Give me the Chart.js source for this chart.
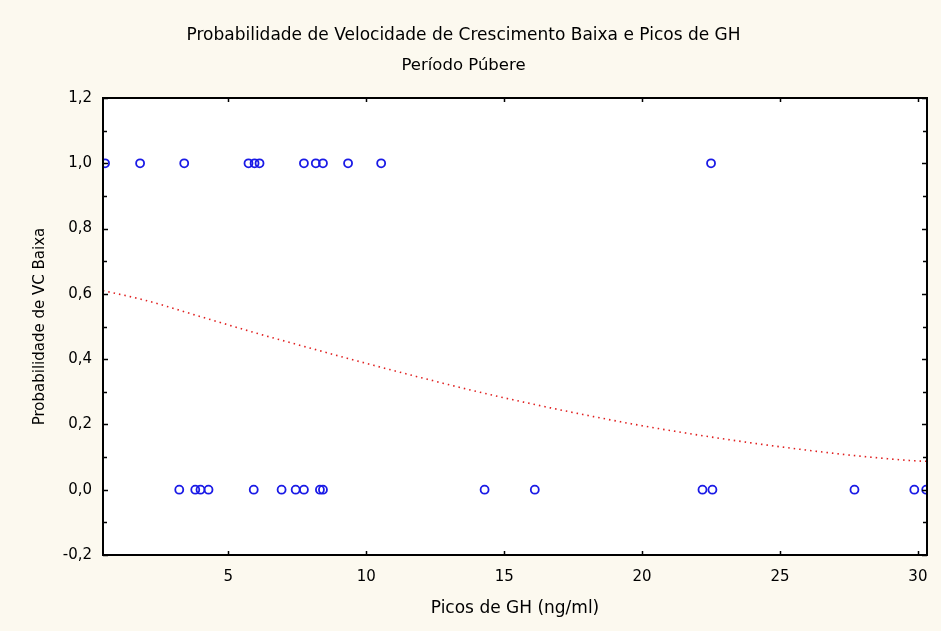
<!DOCTYPE html>
<html>
<head>
<meta charset="utf-8">
<script src="https://cdn.jsdelivr.net/npm/chart.js@4.4.1/dist/chart.umd.min.js"></script>
<style>
  html, body { margin: 0; padding: 0; background: #fcf9ef; }
  #wrap { width: 941px; height: 631px; }
</style>
</head>
<body>
<div id="wrap"><canvas id="gh" width="941" height="631"></canvas></div>
<script>
// observed cases: GH peak (ng/ml) with low growth velocity = 1
const picosBaixa1 = [0.53, 1.80, 3.40, 5.73, 5.95, 6.13, 7.74, 8.17, 8.43, 9.34, 10.54, 22.5];
// observed cases with low growth velocity = 0
const picosBaixa0 = [3.22, 3.80, 3.99, 4.28, 5.92, 6.93, 7.44, 7.74, 8.32, 8.43,
                     14.29, 16.11, 22.19, 22.55, 27.7, 29.87, 30.3];
// fitted probability curve
const curvaX = [0.45, 2, 4, 6, 8, 10, 12, 14, 16, 18, 20, 22, 24, 26, 28, 30, 30.33];
const curvaY = [0.61, 0.58, 0.53, 0.48, 0.433, 0.387, 0.343, 0.301, 0.263, 0.228, 0.196, 0.168, 0.143, 0.121, 0.102, 0.088, 0.087];
const xTicks = [5, 10, 15, 20, 25, 30];
const yTicks = [-0.2, 0, 0.2, 0.4, 0.6, 0.8, 1.0, 1.2];

const fontFam = "'DejaVu Sans', Verdana, sans-serif";
const virgula = v => v.toFixed(1).replace(".", ",");

const frame = {
  id: "frame",
  beforeDraw(chart) {
    const { ctx, chartArea: a } = chart;
    ctx.save();
    ctx.fillStyle = "#fcf9ef";
    ctx.fillRect(0, 0, chart.width, chart.height);
    ctx.fillStyle = "#ffffff";
    ctx.fillRect(a.left, a.top, a.right - a.left, a.bottom - a.top);
    ctx.restore();
  },
  afterDatasetsDraw(chart) {
    const { ctx, chartArea: a, scales: { x, y } } = chart;
    ctx.save();
    ctx.strokeStyle = "#000";
    ctx.lineWidth = 2;
    ctx.strokeRect(a.left, a.top, a.right - a.left, a.bottom - a.top);
    ctx.lineWidth = 1.5;
    ctx.beginPath();
    for (let v = -0.2; v <= 1.21; v += 0.1) {
      const py = Math.round(y.getPixelForValue(v)) + 0.5;
      const major = Math.round(v * 10) % 2 === 0;
      const len = major ? 5 : 4;
      ctx.moveTo(a.left, py); ctx.lineTo(a.left + len, py);
      ctx.moveTo(a.right, py); ctx.lineTo(a.right - len, py);
    }
    xTicks.forEach(v => {
      const px = Math.round(x.getPixelForValue(v)) + 0.5;
      ctx.moveTo(px, a.bottom); ctx.lineTo(px, a.bottom - 4);
      ctx.moveTo(px, a.top); ctx.lineTo(px, a.top + 4);
    });
    ctx.stroke();
    ctx.restore();
  }
};

new Chart(document.getElementById("gh"), {
  type: "scatter",
  data: {
    datasets: [
      {
        label: "VC baixa = 1",
        data: picosBaixa1.map(v => ({ x: v, y: 1 })),
        borderColor: "#1a1ae6",
        backgroundColor: "rgba(255,255,255,0)",
        borderWidth: 1.8,
        pointRadius: 4,
        pointHoverRadius: 4
      },
      {
        label: "VC baixa = 0",
        data: picosBaixa0.map(v => ({ x: v, y: 0 })),
        borderColor: "#1a1ae6",
        backgroundColor: "rgba(255,255,255,0)",
        borderWidth: 1.8,
        pointRadius: 4,
        pointHoverRadius: 4
      },
      {
        type: "line",
        label: "Ajuste",
        data: curvaX.map((v, i) => ({ x: v, y: curvaY[i] })),
        borderColor: "#e02020",
        borderWidth: 1.6,
        borderDash: [1.5, 4],
        pointRadius: 0,
        fill: false,
        cubicInterpolationMode: "monotone"
      }
    ]
  },
  options: {
    responsive: false,
    animation: false,
    layout: { padding: { left: 0, right: 14, top: 0, bottom: 0 } },
    plugins: {
      legend: { display: false },
      tooltip: { enabled: false },
      title: {
        display: true,
        text: "Probabilidade de Velocidade de Crescimento Baixa e Picos de GH",
        color: "#000",
        font: { family: fontFam, size: 17, weight: "normal" },
        padding: { top: 25.6, bottom: 9.8 }
      },
      subtitle: {
        display: true,
        text: "Período Púbere",
        color: "#000",
        font: { family: fontFam, size: 16.5, weight: "normal" },
        padding: { top: 0, bottom: 22.4 }
      }
    },
    scales: {
      x: {
        type: "linear",
        min: 0.455,
        max: 30.33,
        afterFit: s => { s.height = 76; },
        afterBuildTicks: s => { s.ticks = xTicks.map(v => ({ value: v })); },
        grid: { display: false, drawTicks: false },
        border: { display: false },
        ticks: { color: "#000", padding: 13, maxRotation: 0,
                 font: { family: fontFam, size: 15 } },
        title: {
          display: true,
          text: "Picos de GH (ng/ml)",
          color: "#000",
          font: { family: fontFam, size: 17 },
          padding: { top: 0, bottom: 11.8 }
        }
      },
      y: {
        min: -0.2,
        max: 1.2,
        afterFit: s => { s.width = 103; },
        afterBuildTicks: s => { s.ticks = yTicks.map(v => ({ value: v })); },
        grid: { display: false, drawTicks: false },
        border: { display: false },
        ticks: { color: "#000", padding: 11,
                 font: { family: fontFam, size: 15 },
                 callback: v => virgula(v) },
        title: {
          display: true,
          text: "Probabilidade de VC Baixa",
          color: "#000",
          font: { family: fontFam, size: 15 },
          padding: { top: 31, bottom: 0 }
        }
      }
    }
  },
  plugins: [frame]
});
</script>
</body>
</html>
